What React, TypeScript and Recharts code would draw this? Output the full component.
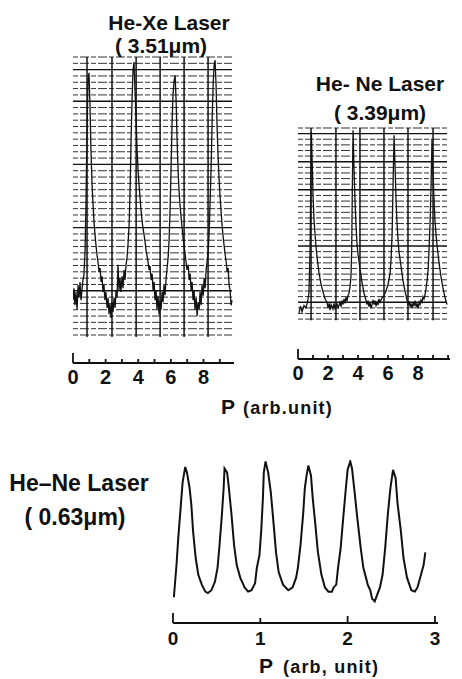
import React from 'react';
import { LineChart, Line, XAxis, YAxis, ReferenceLine } from 'recharts';

const FONT = '"Liberation Sans", Arial, sans-serif';

// ---------- Panel 1 : He-Xe laser (3.51 µm) ----------
// [P (arb. unit), transmitted intensity (grid divisions)]
const HE_XE: [number, number][] = [
  [0, 5.5], [0.06, 7.4], [0.12, 4.7], [0.18, 6.8], [0.25, 4.0], [0.31, 7.9], [0.37, 5.9], [0.43, 8.4],
  [0.49, 5.5], [0.55, 7.1], [0.61, 8.7], [0.67, 9.5], [0.74, 13.4], [0.8, 21.4], [0.86, 32.4], [0.92, 40.3],
  [0.98, 41.5], [1.04, 36.4], [1.1, 29.3], [1.17, 23.7], [1.23, 20.6], [1.29, 17.9], [1.35, 15.8], [1.41, 14.2],
  [1.47, 12.7], [1.53, 11.6], [1.6, 10.0], [1.66, 10.6], [1.72, 8.4], [1.78, 9.3], [1.84, 6.8], [1.9, 7.9],
  [1.96, 5.5], [2.02, 6.8], [2.09, 4.3], [2.15, 5.9], [2.21, 3.3], [2.27, 4.9], [2.33, 2.7], [2.39, 5.2],
  [2.45, 3.6], [2.52, 5.9], [2.58, 4.3], [2.64, 7.1], [2.7, 5.9], [2.76, 11.1], [2.82, 7.1], [2.88, 9.0],
  [2.94, 6.8], [3.01, 9.3], [3.07, 7.4], [3.13, 10.3], [3.19, 8.7], [3.25, 11.1], [3.31, 12.2], [3.37, 14.2],
  [3.44, 17.4], [3.5, 22.9], [3.56, 30.9], [3.62, 37.2], [3.68, 41.9], [3.74, 43.2], [3.8, 38.8], [3.87, 34.0],
  [3.93, 29.3], [3.99, 26.1], [4.05, 23.7], [4.11, 21.7], [4.17, 19.8], [4.23, 18.2], [4.29, 16.9], [4.36, 15.8],
  [4.42, 14.7], [4.48, 13.4], [4.54, 12.5], [4.6, 11.6], [4.66, 10.3], [4.72, 10.9], [4.79, 8.7], [4.85, 9.7],
  [4.91, 7.1], [4.97, 8.4], [5.03, 5.5], [5.09, 7.1], [5.15, 4.0], [5.21, 6.2], [5.28, 3.2], [5.34, 5.5],
  [5.4, 4.0], [5.46, 6.8], [5.52, 5.2], [5.58, 7.9], [5.64, 6.3], [5.71, 9.0], [5.77, 10.6], [5.83, 12.2],
  [5.89, 15.0], [5.95, 19.8], [6.01, 26.1], [6.07, 33.2], [6.13, 38.0], [6.2, 40.3], [6.26, 41.1], [6.32, 37.2],
  [6.38, 30.9], [6.44, 26.1], [6.5, 22.9], [6.56, 20.6], [6.63, 18.5], [6.69, 16.9], [6.75, 15.3], [6.81, 14.1],
  [6.87, 12.8], [6.93, 11.6], [6.99, 10.3], [7.06, 11.1], [7.12, 8.7], [7.18, 9.7], [7.24, 7.1], [7.3, 8.4],
  [7.36, 5.5], [7.42, 7.1], [7.48, 4.0], [7.55, 5.9], [7.61, 3.0], [7.67, 5.2], [7.73, 4.0], [7.79, 6.8],
  [7.85, 4.7], [7.91, 7.9], [7.98, 6.2], [8.04, 9.0], [8.1, 7.4], [8.16, 10.3], [8.22, 11.6], [8.28, 13.0],
  [8.34, 15.8], [8.4, 20.6], [8.47, 26.9], [8.53, 34.0], [8.59, 39.6], [8.65, 42.7], [8.71, 43.5], [8.77, 39.6],
  [8.83, 33.2], [8.9, 27.8], [8.96, 24.5], [9.02, 21.7], [9.08, 19.5], [9.14, 17.4], [9.2, 15.7], [9.26, 14.2],
  [9.33, 12.7], [9.39, 11.6], [9.45, 10.0], [9.51, 10.6], [9.57, 7.9], [9.63, 7.1], [9.69, 4.7], [9.75, 5.5],
];
const HE_XE_VLINES = [0.86, 2.39, 3.87, 5.34, 6.81, 8.28];
const HE_XE_HEAVY = [42, 37, 27, 17, 7];
const HE_XE_TICKS = [0, 1, 2, 3, 4, 5, 6, 7, 8, 9];

// ---------- Panel 2 : He-Ne laser (3.39 µm) ----------
const HE_NE_339: [number, number][] = [
  [0.07, 1.1], [0.17, 2.3], [0.27, 1.3], [0.4, 2.4], [0.53, 2.0], [0.63, 3.0], [0.73, 4.6], [0.8, 11.7],
  [0.85, 23.5], [0.89, 33.3], [0.95, 27.5], [1.0, 22.0], [1.07, 17.6], [1.17, 13.8], [1.27, 11.0], [1.4, 8.2],
  [1.53, 6.3], [1.67, 4.8], [1.8, 3.6], [1.93, 3.0], [2.0, 2.0], [2.07, 2.8], [2.13, 1.6], [2.2, 2.6],
  [2.33, 1.8], [2.4, 2.8], [2.47, 1.9], [2.6, 2.7], [2.67, 2.0], [2.8, 3.0], [2.87, 2.2], [2.93, 3.3],
  [3.0, 2.6], [3.07, 3.6], [3.13, 2.8], [3.2, 3.9], [3.27, 3.2], [3.33, 4.2], [3.4, 4.6], [3.47, 5.8],
  [3.53, 7.5], [3.58, 12.5], [3.62, 23.5], [3.67, 33.6], [3.72, 28.0], [3.8, 21.0], [3.87, 16.5], [3.93, 13.5],
  [4.0, 11.5], [4.13, 9.0], [4.27, 6.5], [4.4, 4.6], [4.53, 3.4], [4.6, 2.6], [4.67, 3.3], [4.73, 2.2],
  [4.8, 2.9], [4.87, 1.9], [4.93, 2.5], [5.0, 3.4], [5.07, 2.6], [5.13, 3.3], [5.2, 2.4], [5.27, 3.0],
  [5.33, 2.5], [5.4, 3.6], [5.47, 3.0], [5.6, 3.8], [5.73, 4.2], [5.87, 5.0], [6.0, 6.2], [6.13, 8.0],
  [6.2, 10.5], [6.27, 15.0], [6.33, 23.0], [6.4, 32.7], [6.47, 27.0], [6.53, 21.5], [6.6, 17.0], [6.67, 14.0],
  [6.73, 12.0], [6.87, 9.3], [7.0, 6.8], [7.13, 5.0], [7.27, 3.4], [7.33, 2.5], [7.4, 3.2], [7.47, 2.2],
  [7.53, 2.8], [7.6, 1.9], [7.67, 2.8], [7.73, 2.3], [7.8, 3.3], [7.87, 2.2], [7.93, 2.8], [8.0, 1.9],
  [8.07, 3.0], [8.13, 2.6], [8.2, 3.4], [8.27, 3.0], [8.33, 4.0], [8.4, 3.6], [8.47, 4.4], [8.53, 5.4],
  [8.6, 6.8], [8.67, 8.8], [8.73, 12.0], [8.8, 17.0], [8.87, 24.0], [8.93, 32.0], [8.98, 27.0], [9.07, 21.0],
  [9.13, 17.5], [9.2, 15.0], [9.27, 13.0], [9.4, 10.0], [9.53, 7.5], [9.67, 5.4], [9.8, 3.8], [9.93, 2.6],
];
const HE_NE_339_VLINES = [0.87, 2.53, 4.13, 5.73, 7.33, 9.0];
const HE_NE_339_HEAVY = [33, 28, 23, 13, 3];
const HE_NE_339_TICKS = [0, 1, 2, 3, 4, 5, 6, 7, 8, 9, 10];

// ---------- Panel 3 : He-Ne laser (0.63 µm) ----------
const HE_NE_063: [number, number][] = [
  [0.01, 0.02], [0.04, 0.25], [0.06, 0.44], [0.09, 0.68], [0.11, 0.84], [0.14, 0.95], [0.16, 0.91], [0.19, 0.8],
  [0.21, 0.68], [0.23, 0.49], [0.26, 0.3], [0.29, 0.18], [0.33, 0.11], [0.37, 0.06], [0.4, 0.05], [0.44, 0.07],
  [0.48, 0.13], [0.51, 0.23], [0.53, 0.37], [0.56, 0.61], [0.58, 0.8], [0.59, 0.94], [0.62, 0.91], [0.64, 0.8],
  [0.67, 0.61], [0.7, 0.39], [0.73, 0.25], [0.77, 0.16], [0.82, 0.09], [0.86, 0.06], [0.9, 0.07], [0.94, 0.12],
  [0.96, 0.23], [0.99, 0.32], [1.01, 0.49], [1.03, 0.73], [1.04, 0.91], [1.06, 0.99], [1.09, 0.91], [1.12, 0.77],
  [1.15, 0.56], [1.18, 0.34], [1.21, 0.2], [1.26, 0.11], [1.32, 0.07], [1.37, 0.09], [1.41, 0.16], [1.43, 0.23],
  [1.46, 0.39], [1.49, 0.61], [1.51, 0.8], [1.53, 0.89], [1.55, 0.96], [1.58, 0.89], [1.6, 0.73], [1.63, 0.54],
  [1.66, 0.34], [1.7, 0.18], [1.74, 0.09], [1.78, 0.06], [1.82, 0.06], [1.84, 0.09], [1.87, 0.11], [1.89, 0.23],
  [1.92, 0.37], [1.95, 0.59], [1.98, 0.8], [2.0, 0.93], [2.03, 0.99], [2.05, 0.94], [2.08, 0.77], [2.11, 0.59],
  [2.15, 0.37], [2.18, 0.23], [2.21, 0.16], [2.23, 0.11], [2.26, 0.07], [2.28, 0.01], [2.31, -0.01], [2.34, 0.04],
  [2.37, 0.09], [2.4, 0.18], [2.43, 0.37], [2.46, 0.61], [2.49, 0.8], [2.52, 0.93], [2.55, 0.87], [2.57, 0.7],
  [2.61, 0.49], [2.64, 0.3], [2.68, 0.16], [2.73, 0.07], [2.77, 0.06], [2.8, 0.09], [2.84, 0.18], [2.87, 0.25],
  [2.89, 0.34],
];
const HE_NE_063_TICKS = [0, 1, 2, 3];

const toRows = (pts: [number, number][]) => pts.map(([p, v]) => ({ p, v }));

type TickOpts = {
  tall: Record<number, number>;
  short: number;
  showLabel: (v: number) => boolean;
  fontSize: number;
  dy: number;
};

const makeTick = (o: TickOpts) => (props: any) => {
  const { x, y, payload } = props;
  const v = payload.value as number;
  const h = o.tall[v] ?? o.short;
  return (
    <g>
      <line x1={x} x2={x} y1={y} y2={y - h} stroke="#111" strokeWidth={1.8} />
      {o.showLabel(v) && (
        <text x={x} y={y + o.dy} textAnchor="middle" fontFamily={FONT} fontWeight="bold" fontSize={o.fontSize} fill="#111">
          {v}
        </text>
      )}
    </g>
  );
};

const range = (a: number, b: number) => Array.from({ length: b - a + 1 }, (_, i) => a + i);

function GridPanel(props: {
  data: [number, number][];
  width: number;
  height: number;
  margin: { top: number; left: number; right: number };
  axisHeight: number;
  xDomain: [number, number];
  yDomain: [number, number];
  gridRight: number;
  divisions: number;
  vLines: number[];
  heavy: number[];
  ticks: number[];
  vBottom: number;
}) {
  const p = props;
  const rows = toRows(p.data);
  const tick = makeTick({ tall: { 0: 10 }, short: 4, showLabel: (v) => v % 2 === 0 && v < 10, fontSize: 20, dy: 21 });
  return (
    <LineChart width={p.width} height={p.height} data={rows} margin={{ ...p.margin, bottom: 0 }}>
      <XAxis
        dataKey="p"
        type="number"
        domain={p.xDomain}
        ticks={p.ticks}
        interval={0}
        allowDataOverflow
        height={p.axisHeight}
        tickLine={false}
        tickSize={0}
        tickMargin={0}
        axisLine={{ stroke: '#111', strokeWidth: 2 }}
        tick={tick}
      />
      <YAxis hide type="number" domain={p.yDomain} allowDataOverflow />
      {range(0, p.divisions).map((d) =>
        p.heavy.includes(d) ? null : (
          <ReferenceLine
            key={'h' + d}
            segment={[{ x: 0, y: d }, { x: p.gridRight, y: d }]}
            stroke="#333"
            strokeWidth={1}
            strokeDasharray="5 2 9 2"
            ifOverflow="visible"
          />
        )
      )}
      {p.heavy.map((d) => (
        <ReferenceLine
          key={'H' + d}
          segment={[{ x: 0, y: d }, { x: p.gridRight, y: d }]}
          stroke="#111"
          strokeWidth={1.4}
          ifOverflow="visible"
        />
      ))}
      {p.vLines.map((x) => (
        <ReferenceLine
          key={'v' + x}
          segment={[{ x, y: p.vBottom }, { x, y: p.divisions }]}
          stroke="#111"
          strokeWidth={1.5}
          ifOverflow="visible"
        />
      ))}
      <Line
        type="linear"
        dataKey="v"
        stroke="#111"
        strokeWidth={1.3}
        dot={false}
        isAnimationActive={false}
      />
    </LineChart>
  );
}

export default function App() {
  const abs: React.CSSProperties = { position: 'absolute', left: 0, top: 0 };
  const tick3 = makeTick({ tall: { 0: 10, 1: 5, 2: 7, 3: 7 }, short: 5, showLabel: () => true, fontSize: 19, dy: 22 });
  return (
    <div style={{ position: 'absolute', left: 0, top: 0, width: 462, height: 679, background: '#fff', overflow: 'hidden' }}>
      <div style={abs}>
        <GridPanel
          data={HE_XE}
          width={462}
          height={400}
          margin={{ top: 57, left: 73, right: 228 }}
          axisHeight={37}
          xDomain={[0, 9.87]}
          yDomain={[-4.43, 44]}
          gridRight={9.75}
          divisions={44}
          vLines={HE_XE_VLINES}
          heavy={HE_XE_HEAVY}
          ticks={HE_XE_TICKS}
          vBottom={-0.3}
        />
      </div>
      <div style={abs}>
        <GridPanel
          data={HE_NE_339}
          width={462}
          height={400}
          margin={{ top: 128, left: 298, right: 12 }}
          axisHeight={41}
          xDomain={[0, 10.13]}
          yDomain={[-7.1, 34]}
          gridRight={9.93}
          divisions={34}
          vLines={HE_NE_339_VLINES}
          heavy={HE_NE_339_HEAVY}
          ticks={HE_NE_339_TICKS}
          vBottom={-0.2}
        />
      </div>
      <div style={abs}>
        <LineChart width={462} height={679} data={toRows(HE_NE_063)} margin={{ top: 460, left: 173, right: 24, bottom: 0 }}>
          <XAxis
            dataKey="p"
            type="number"
            domain={[0, 3.035]}
            ticks={HE_NE_063_TICKS}
            interval={0}
            allowDataOverflow
            height={56}
            tickLine={false}
            tickSize={0}
            tickMargin={0}
            axisLine={{ stroke: '#111', strokeWidth: 2.2 }}
            tick={tick3}
          />
          <YAxis hide type="number" domain={[-0.164, 1]} allowDataOverflow />
          <Line type="linear" dataKey="v" stroke="#111" strokeWidth={2} dot={false} isAnimationActive={false} />
        </LineChart>
      </div>
      <svg width={462} height={679} style={{ ...abs, pointerEvents: 'none' }}>
        <g fontFamily={FONT} fill="#111" fontWeight="bold">
          <text x={169} y={30} fontSize={21} textAnchor="middle">He-Xe Laser</text>
          <text x={161} y={53} fontSize={21} textAnchor="middle">( 3.51μm)</text>
          <text x={380} y={91} fontSize={21} textAnchor="middle">He- Ne Laser</text>
          <text x={380} y={120} fontSize={21} textAnchor="middle">( 3.39μm)</text>
          <text x={79} y={491} fontSize={23} textAnchor="middle">He–Ne Laser</text>
          <text x={75} y={525} fontSize={23} textAnchor="middle">( 0.63μm)</text>
          <text x={228} y={414} fontSize={21} textAnchor="middle">P</text>
          <text x={243} y={414} fontSize={18} letterSpacing={1.2}>(arb.unit)</text>
          <text x={266} y={673} fontSize={21} textAnchor="middle">P</text>
          <text x={283} y={673} fontSize={18} letterSpacing={1.2}>(arb, unit)</text>
        </g>
      </svg>
    </div>
  );
}
